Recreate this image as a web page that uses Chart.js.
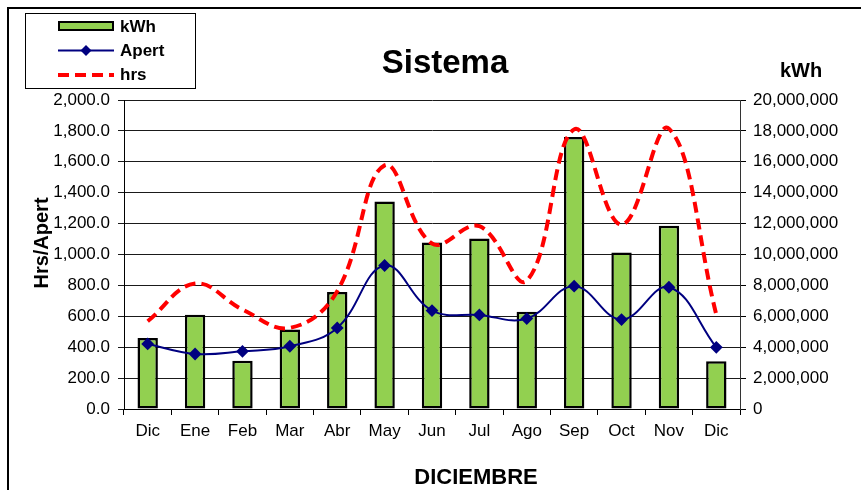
<!DOCTYPE html>
<html>
<head>
<meta charset="utf-8">
<script src="https://cdn.jsdelivr.net/npm/chart.js@4"></script>
<style>
  html, body { margin: 0; padding: 0; background: #fff; }
  #wrap { width: 861px; height: 490px; position: relative; }
</style>
</head>
<body>
<div id="wrap"><canvas id="c" width="861" height="490"></canvas></div>
<script>
const months = ['Dic','Ene','Feb','Mar','Abr','May','Jun','Jul','Ago','Sep','Oct','Nov','Dic'];
const kwh = [4600000, 6100000, 3130000, 5140000, 7580000, 13430000, 10780000, 11040000, 6290000, 17600000, 10130000, 11860000, 3090000];
const apert = [421, 356, 373, 406, 525, 929, 637, 609, 585, 795, 579, 788, 399];
const hrs = [568, 812, 644, 525, 762, 1577, 1071, 1183, 831, 1810, 1194, 1815, 611];

const chartTitle = 'Sistema';
const leftTitle = 'Hrs/Apert';
const rightTitle = 'kWh';
const xTitle = 'DICIEMBRE';

const FONT = "'Liberation Sans', Arial, sans-serif";
const NARROW = "'Liberation Sans Narrow', 'Liberation Sans', Arial, sans-serif";

const decor = {
  id: 'decor',
  beforeDraw(chart) {
    const ctx = chart.ctx;
    ctx.save();
    ctx.fillStyle = '#fff';
    ctx.fillRect(0, 0, chart.width, chart.height);
    ctx.restore();
  },
  afterDraw(chart) {
    const ctx = chart.ctx;
    ctx.save();
    // outer border
    ctx.strokeStyle = '#000';
    ctx.lineWidth = 2;
    ctx.strokeRect(8, 8, 900, 600);
    // title
    ctx.fillStyle = '#000';
    ctx.textAlign = 'center';
    ctx.textBaseline = 'alphabetic';
    ctx.font = 'bold 33px ' + FONT;
    ctx.fillText(chartTitle, 445, 73);
    ctx.font = 'bold 20px ' + FONT;
    ctx.fillText(rightTitle, 801, 77);
    ctx.font = 'bold 22px ' + FONT;
    ctx.fillText(xTitle, 476, 484);
    ctx.save();
    ctx.translate(48, 243);
    ctx.rotate(-Math.PI / 2);
    ctx.font = 'bold 20px ' + FONT;
    ctx.fillText(leftTitle, 0, 0);
    ctx.restore();

    // legend box
    ctx.fillStyle = '#fff';
    ctx.fillRect(25, 13, 170, 75);
    ctx.strokeStyle = '#000';
    ctx.lineWidth = 1;
    ctx.strokeRect(25.5, 13.5, 170, 75);
    const ds = chart.data.datasets;
    // kWh swatch
    ctx.fillStyle = ds[0].backgroundColor;
    ctx.fillRect(59, 22, 54, 8);
    ctx.strokeStyle = '#000';
    ctx.lineWidth = 2;
    ctx.strokeRect(59, 22, 54, 8);
    // Apert
    ctx.strokeStyle = ds[1].borderColor;
    ctx.lineWidth = 2;
    ctx.beginPath(); ctx.moveTo(58, 50.5); ctx.lineTo(114, 50.5); ctx.stroke();
    ctx.fillStyle = ds[1].borderColor;
    ctx.beginPath();
    ctx.moveTo(86, 45); ctx.lineTo(91.5, 50.5); ctx.lineTo(86, 56); ctx.lineTo(80.5, 50.5); ctx.closePath();
    ctx.fill();
    // hrs
    ctx.strokeStyle = ds[2].borderColor;
    ctx.lineWidth = 4;
    ctx.setLineDash([11, 6]);
    ctx.beginPath(); ctx.moveTo(58, 75); ctx.lineTo(114, 75); ctx.stroke();
    ctx.setLineDash([]);
    // legend text
    ctx.fillStyle = '#000';
    ctx.textAlign = 'left';
    ctx.textBaseline = 'middle';
    ctx.font = 'bold 17px ' + FONT;
    ctx.fillText(ds[0].label, 120, 27);
    ctx.fillText(ds[1].label, 120, 51);
    ctx.fillText(ds[2].label, 120, 75);
    ctx.restore();
  }
};

new Chart(document.getElementById('c'), {
  type: 'bar',
  data: {
    labels: months,
    datasets: [
      {
        type: 'bar',
        label: 'kWh',
        data: kwh,
        yAxisID: 'y1',
        backgroundColor: '#92D050',
        borderColor: '#000',
        borderWidth: 2.5,
        borderSkipped: false,
        barPercentage: 0.43,
        categoryPercentage: 1.0,
        order: 3
      },
      {
        type: 'line',
        label: 'Apert',
        data: apert,
        yAxisID: 'y',
        borderColor: '#000080',
        backgroundColor: '#000080',
        borderWidth: 2,
        tension: 0.4,
        pointStyle: 'rectRot',
        pointRadius: 5,
        pointBackgroundColor: '#000080',
        pointBorderColor: '#000080',
        fill: false,
        order: 1
      },
      {
        type: 'line',
        label: 'hrs',
        data: hrs,
        yAxisID: 'y',
        borderColor: '#FF0000',
        borderWidth: 4,
        borderDash: [11, 6],
        tension: 0.4,
        pointRadius: 0,
        fill: false,
        order: 2
      }
    ]
  },
  options: {
    responsive: false,
    animation: false,
    devicePixelRatio: 1,
    layout: { padding: { top: 100, left: 0, right: 0, bottom: 0 } },
    plugins: {
      legend: { display: false },
      title: { display: false },
      tooltip: { enabled: false }
    },
    scales: {
      x: {
        offset: true,
        grid: { display: true, drawOnChartArea: false, drawTicks: true, tickLength: 6, color: '#000', offset: true },
        border: { color: '#000', width: 1 },
        ticks: { color: '#000', font: { family: NARROW, size: 17 }, padding: 6, maxRotation: 0, autoSkip: false },
        afterFit(s) { s.height = 81; }
      },
      y: {
        position: 'left',
        min: 0,
        max: 2000,
        grid: { color: '#1a1a1a', lineWidth: 1, tickLength: 6 },
        border: { color: '#000', width: 1 },
        ticks: {
          stepSize: 200,
          color: '#000',
          font: { family: FONT, size: 17 },
          padding: 8,
          callback: v => Number(v).toLocaleString('en-US', { minimumFractionDigits: 1, maximumFractionDigits: 1 })
        },
        afterFit(s) { s.width = 124; }
      },
      y1: {
        position: 'right',
        min: 0,
        max: 20000000,
        grid: { drawOnChartArea: false, color: '#000', tickLength: 6 },
        border: { color: '#333', width: 1 },
        ticks: {
          stepSize: 2000000,
          color: '#000',
          font: { family: FONT, size: 17 },
          padding: 7,
          callback: v => Number(v).toLocaleString('en-US')
        },
        afterFit(s) { s.width = 121; }
      }
    }
  },
  plugins: [decor]
});
</script>
</body>
</html>
